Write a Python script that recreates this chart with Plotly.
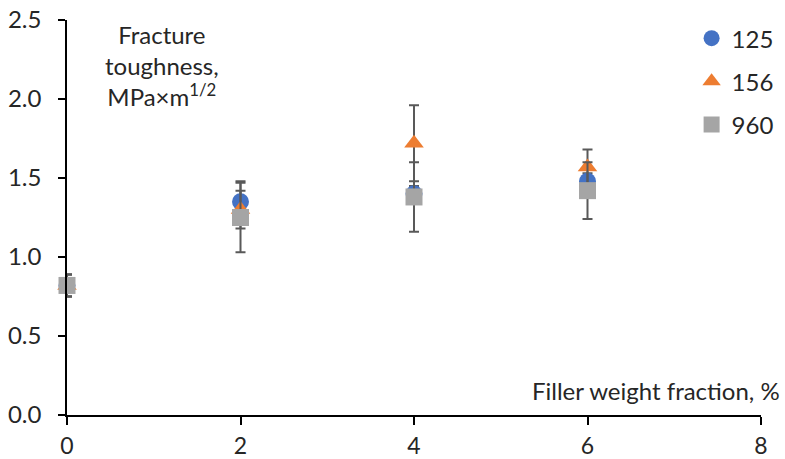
import plotly.graph_objects as go

x_vals = [0, 2, 4, 6]
series_names = ["125", "156", "960"]
y_125 = [0.82, 1.35, 1.40, 1.48]
err_125 = [0.07, 0.13, 0.05, 0.05]
y_156 = [0.82, 1.30, 1.72, 1.57]
err_156 = [0.07, 0.12, 0.24, 0.11]
y_960 = [0.82, 1.25, 1.38, 1.42]
err_960 = [0.07, 0.22, 0.22, 0.18]

colors = ["#4472C4", "#ED7D31", "#A5A5A5"]
symbols = ["circle", "triangle-up", "square"]
sizes = [17, 17, 17]
ys = [y_125, y_156, y_960]
errs = [err_125, err_156, err_960]

FONT = "Lato"
FS = 24
TXT = "#262626"
fig = go.Figure()
for name, y, e, c, s, sz in zip(series_names, ys, errs, colors, symbols, sizes):
    fig.add_trace(go.Scatter(
        x=x_vals, y=y, mode="markers", name=name, legendgroup=name,
        cliponaxis=False,
        marker=dict(color=c, symbol=s, size=sz, line=dict(width=0)),
        error_y=dict(type="data", array=e, visible=True, color="#595959",
                     thickness=2, width=5),
    ))

fig.update_layout(
    width=785, height=459,
    margin=dict(l=67, r=24, t=20, b=44, autoexpand=False),
    paper_bgcolor="white", plot_bgcolor="white",
    font=dict(family=FONT, size=FS, color=TXT),
    showlegend=True,
    legend=dict(x=0.9, y=1.01, xanchor="left", yanchor="top",
                bgcolor="rgba(0,0,0,0)", tracegroupgap=9, itemwidth=30,
                font=dict(size=FS, family=FONT, color=TXT)),
    xaxis=dict(range=[0, 8], tickvals=[0, 2, 4, 6, 8], showgrid=False,
               zeroline=False, showline=True, linecolor="black", linewidth=1.5,
               ticks="outside", ticklen=8, tickcolor="black", tickwidth=1.5,
               automargin=False, ticklabelstandoff=2,
               tickfont=dict(size=23, family=FONT, color=TXT)),
    yaxis=dict(range=[0, 2.5], tickvals=[0, 0.5, 1, 1.5, 2, 2.5],
               tickformat=".1f", showgrid=False, zeroline=False,
               showline=True, linecolor="black", linewidth=1.5,
               ticks="outside", ticklen=7, tickcolor="black", tickwidth=1.5,
               automargin=False, ticklabelstandoff=12,
               tickfont=dict(size=FS, family=FONT, color=TXT)),
    annotations=[
        dict(text="Fracture<br>toughness,<br>MPa×m<sup>1/2</sup>",
             xref="paper", yref="paper", x=0.137, y=1.005,
             xanchor="center", yanchor="top", showarrow=False, align="center",
             font=dict(size=FS, family=FONT, color=TXT)),
        dict(text="Filler weight fraction, %", xref="paper", yref="paper",
             x=1.03, y=0.02, xanchor="right", yanchor="bottom", showarrow=False,
             font=dict(size=FS, family=FONT, color=TXT)),
    ],
)

fig.write_html("out.html", config={"displayModeBar": False},
               post_script="document.body.style.margin='0';")
